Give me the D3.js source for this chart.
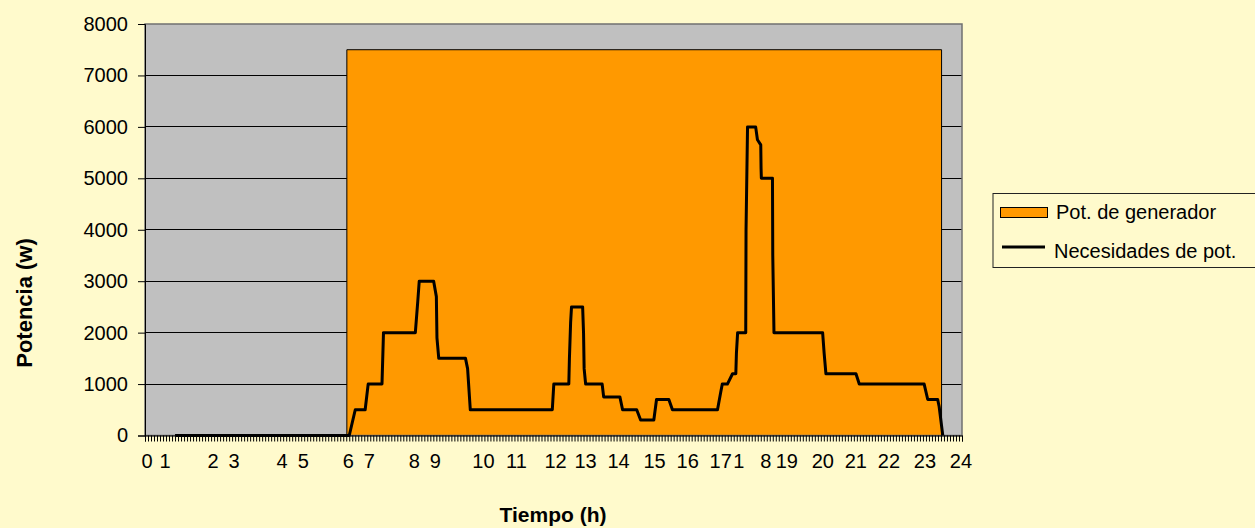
<!DOCTYPE html>
<html>
<head>
<meta charset="utf-8">
<title>Potencia</title>
<script src="https://cdn.jsdelivr.net/npm/d3@7/dist/d3.min.js"></script>
<style>
body { margin: 0; background: #FFFACC; }
svg { display: block; font-family: "Liberation Sans", Arial, sans-serif; }
</style>
</head>
<body>
<svg id="chart" width="1255" height="528"></svg>
<script>
// categorias del eje X (una por muestra), etiquetas de hora
const nCategories = 272;
const hourLabels = ["0","1","2","3","4","5","6","7","8","9","10","11","12","13","14","15","16","17","1","8","19","20","21","22","23","24"];
const hourLabelCat = [0,6,22,29,45,52,67,74,89,96,112,123,136,146,157,169,180,191,197,206,213,225,236,247,259,271];

const yTicks = [0,1000,2000,3000,4000,5000,6000,7000,8000];

// Pot. de generador
const genPos = [0, 67.2, 67.2, 265.2, 265.2, 272];
const genVal = [0, 0, 7500, 7500, 0, 0];

// Necesidades de pot.
const demandPos = [10,68,70,73.3,74.3,78.9,79.4,90,90.8,91.3,96.1,97,97.2,97.8,106.7,107.4,108.3,
  135.6,136.1,141.1,141.3,141.7,142,145.7,146,146.2,146.7,152.2,152.7,158.1,159,163.7,165,169.4,170.3,
  174.4,175.6,190.6,191.7,192.2,193.9,195.6,196.7,196.9,197.3,200,200.1,200.6,203.3,203.9,205,205.1,205.2,
  208.9,209,209.4,225.6,226.1,226.7,236.7,237.8,259.4,260.6,263.9,264.4,265.6];
const demandVal = [0,0,500,500,1000,1000,2000,2000,2600,3000,3000,2700,1900,1500,1500,1300,500,
  500,1000,1000,1500,2200,2500,2500,2000,1300,1000,1000,750,750,500,500,300,300,700,
  700,500,500,850,1000,1000,1200,1200,1600,2000,2000,4000,6000,6000,5750,5650,5200,5000,
  5000,3500,2000,2000,1600,1200,1200,1000,1000,700,700,560,0];

const svg = d3.select("#chart");
const plotLeft = 145, plotRight = 962, plotTop = 24, plotBottom = 435.5;

const x = d3.scaleLinear().domain([0, nCategories]).range([plotLeft, plotRight]);
const y = d3.scaleLinear().domain([0, 8000]).range([plotBottom, plotTop]);

// fondo del area de trazado
svg.append("rect")
  .attr("x", plotLeft).attr("y", plotTop)
  .attr("width", plotRight - plotLeft).attr("height", plotBottom - plotTop)
  .attr("fill", "#C0C0C0");

// lineas de division
svg.append("g")
  .selectAll("line")
  .data(yTicks.filter(d => d > 0 && d < 8000))
  .join("line")
  .attr("x1", plotLeft).attr("x2", plotRight)
  .attr("y1", d => y(d)).attr("y2", d => y(d))
  .attr("stroke", "#000").attr("stroke-width", 1)
  .attr("shape-rendering", "crispEdges");

// area del generador
const gen = genPos.map((p, i) => ({p: p, v: genVal[i]}));
svg.append("path")
  .datum(gen)
  .attr("d", d3.area().x(d => x(d.p)).y0(y(0)).y1(d => y(d.v)))
  .attr("fill", "#FF9900")
  .attr("stroke", "#000")
  .attr("stroke-width", 1);

// borde del area de trazado
svg.append("rect")
  .attr("x", plotLeft).attr("y", plotTop)
  .attr("width", plotRight - plotLeft).attr("height", plotBottom - plotTop)
  .attr("fill", "none")
  .attr("stroke", "#707070").attr("stroke-width", 1.5);

// eje Y
const yAxis = svg.append("g")
  .attr("transform", `translate(${plotLeft},0)`)
  .call(d3.axisLeft(y).tickValues(yTicks).tickSize(7).tickPadding(10).tickFormat(d3.format("d")));
yAxis.selectAll("text").attr("font-size", 20).attr("fill", "#000").attr("font-family", "Liberation Sans, Arial, sans-serif");
yAxis.selectAll("line").attr("stroke", "#000");
yAxis.select(".domain").attr("stroke", "#000");

// eje X: marcas por categoria
const xTicks = svg.append("g")
  .attr("transform", `translate(0,${plotBottom})`)
  .call(d3.axisBottom(x).tickValues(d3.range(0, nCategories + 1)).tickSize(6).tickFormat(""));
xTicks.selectAll("line").attr("stroke", "#000");
xTicks.select(".domain").attr("stroke", "#000");

// eje X: etiquetas de hora en el centro de su categoria
const xLabels = svg.append("g")
  .attr("transform", `translate(0,${plotBottom})`)
  .call(d3.axisBottom(x)
    .tickValues(hourLabelCat.map(c => c + 0.5))
    .tickSize(0).tickPadding(18)
    .tickFormat((d, i) => hourLabels[i]));
xLabels.select(".domain").remove();
xLabels.selectAll("text").attr("font-size", 20).attr("fill", "#000").attr("font-family", "Liberation Sans, Arial, sans-serif");

// linea de necesidades
const demand = demandPos.map((p, i) => ({p: p, v: demandVal[i]}));
svg.append("path")
  .datum(demand)
  .attr("d", d3.line().x(d => x(d.p)).y(d => y(d.v)))
  .attr("fill", "none")
  .attr("stroke", "#000")
  .attr("stroke-width", 3)
  .attr("stroke-linejoin", "round");

// titulos de los ejes
svg.append("text")
  .attr("transform", "translate(32,303) rotate(-90)")
  .attr("text-anchor", "middle")
  .attr("font-size", 22).attr("font-weight", "bold")
  .text("Potencia (w)");

svg.append("text")
  .attr("x", 553).attr("y", 522)
  .attr("text-anchor", "middle")
  .attr("font-size", 21).attr("font-weight", "bold")
  .text("Tiempo (h)");

// leyenda
const legend = svg.append("g");
legend.append("rect")
  .attr("x", 993).attr("y", 193.5)
  .attr("width", 270).attr("height", 74)
  .attr("fill", "#FFFACC")
  .attr("stroke", "#222").attr("stroke-width", 1);
legend.append("rect")
  .attr("x", 1000.5).attr("y", 207.5)
  .attr("width", 47).attr("height", 10)
  .attr("fill", "#FF9900").attr("stroke", "#000").attr("stroke-width", 1);
legend.append("text")
  .attr("x", 1056).attr("y", 219)
  .attr("font-size", 20)
  .text("Pot. de generador");
legend.append("line")
  .attr("x1", 1002).attr("x2", 1045)
  .attr("y1", 247).attr("y2", 247)
  .attr("stroke", "#000").attr("stroke-width", 3);
legend.append("text")
  .attr("x", 1054).attr("y", 258)
  .attr("font-size", 20)
  .text("Necesidades de pot.");
</script>
</body>
</html>
